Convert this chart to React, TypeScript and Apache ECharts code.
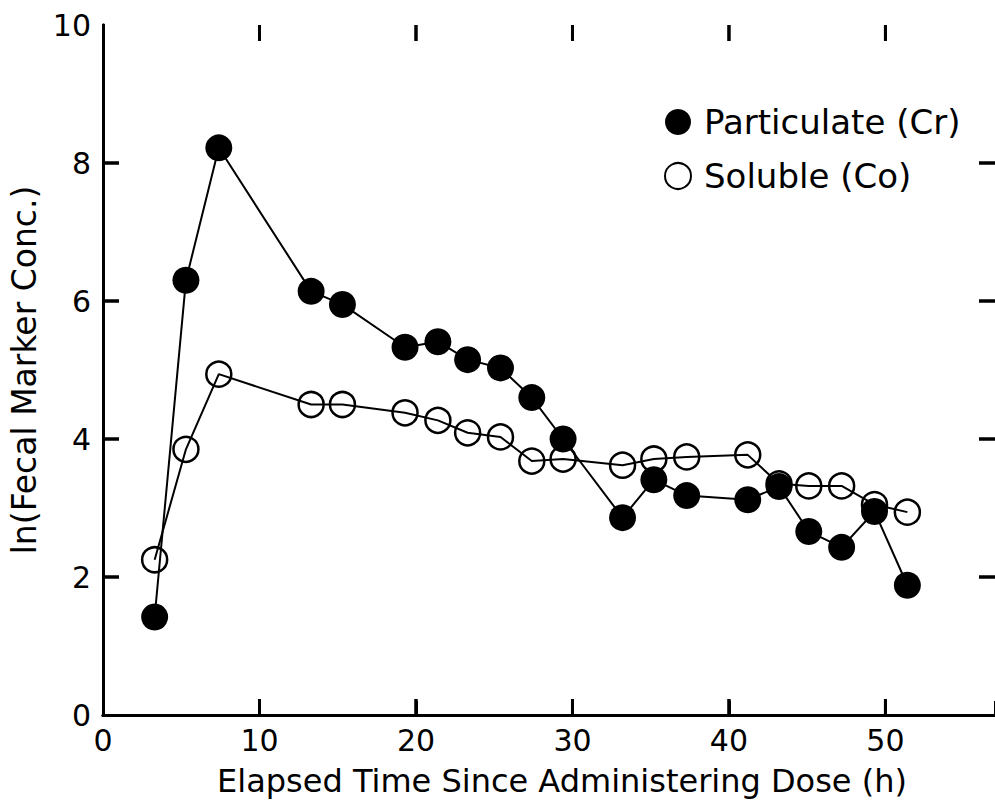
import React, { useEffect, useRef } from "react";
import * as echarts from "echarts";

const times = [3.3, 5.3, 7.4, 13.3, 15.3, 19.3, 21.4, 23.3, 25.4, 27.4, 29.4, 33.2, 35.2, 37.3, 41.2, 43.2, 45.1, 47.2, 49.3, 51.4];
const particulate = [1.42, 6.3, 8.22, 6.14, 5.95, 5.33, 5.41, 5.15, 5.03, 4.6, 4.0, 2.86, 3.41, 3.18, 3.12, 3.31, 2.66, 2.43, 2.95, 1.88];
const soluble = [2.25, 3.85, 4.94, 4.5, 4.5, 4.38, 4.27, 4.09, 4.03, 3.68, 3.71, 3.62, 3.71, 3.74, 3.77, 3.35, 3.32, 3.32, 3.05, 2.94];
const seriesNames = ["Particulate (Cr)", "Soluble (Co)"];
const xTitle = "Elapsed Time Since Administering Dose (h)";
const yTitle = "ln(Fecal Marker Conc.)";
const xTicks = [10, 20, 30, 40, 50];
const yTicks = [2, 4, 6, 8];

const FONT = "DejaVu Sans";
const X_MAX = 57;
const Y_MAX = 10;
const TICK_LEN = 16;
const GRID = { left: 102, top: 25, width: 897, height: 692 };

export default function App() {
  const ref = useRef<HTMLDivElement>(null);
  useEffect(() => {
    document.body.style.margin = "0";
    const chart = echarts.init(ref.current!, null, { renderer: "svg" });
    const axisLine = () => ({ show: true, lineStyle: { color: "#000", width: 3 } });
    const tickOnlyAxis = (extra: any) => ({
      type: "value",
      min: 0,
      axisLine: { show: false },
      axisTick: { show: true, length: TICK_LEN, lineStyle: { color: "#000", width: 3 } },
      axisLabel: { show: false },
      splitLine: { show: false },
      ...extra,
    });
    chart.setOption({
      animation: false,
      backgroundColor: "#fff",
      grid: { ...GRID, containLabel: false },
      legend: {
        orient: "vertical",
        left: 659,
        top: 100,
        itemWidth: 26,
        itemHeight: 26,
        itemGap: 20,
        icon: "circle",
        data: seriesNames,
        textStyle: { fontFamily: FONT, fontSize: 34, color: "#000", padding: [0, 0, 0, 8] },
      },
      xAxis: [
        {
          type: "value",
          min: 0,
          max: X_MAX,
          interval: 10,
          position: "bottom",
          axisLine: axisLine(),
          axisTick: { show: false },
          splitLine: { show: false },
          axisLabel: { fontFamily: FONT, fontSize: 30, color: "#000", margin: 10, showMaxLabel: false },
          name: xTitle,
          nameLocation: "middle",
          nameGap: 50,
          nameTextStyle: { fontFamily: FONT, fontSize: 32, color: "#000", padding: [0, 0, 0, 26] },
        },
        {
          type: "value",
          min: 0,
          max: X_MAX,
          interval: 10,
          position: "top",
          axisLine: axisLine(),
          axisTick: { show: false },
          splitLine: { show: false },
          axisLabel: { show: false },
        },
        // a top-style axis moved onto the bottom edge: its outward ticks point up into the plot
        tickOnlyAxis({ max: X_MAX, interval: 10, position: "top", offset: -GRID.height }),
      ],
      yAxis: [
        {
          type: "value",
          min: 0,
          max: Y_MAX,
          interval: 2,
          position: "left",
          axisLine: axisLine(),
          axisTick: { show: false },
          splitLine: { show: false },
          axisLabel: { fontFamily: FONT, fontSize: 30, color: "#000", margin: 12 },
          name: yTitle,
          nameLocation: "middle",
          nameGap: 62,
          nameRotate: 90,
          nameTextStyle: { fontFamily: FONT, fontSize: 33, color: "#000" },
        },
        {
          type: "value",
          min: 0,
          max: Y_MAX,
          interval: 2,
          position: "right",
          axisLine: axisLine(),
          axisTick: { show: false },
          splitLine: { show: false },
          axisLabel: { show: false },
        },
        // a right-style axis moved onto the left edge: its outward ticks point right into the plot
        tickOnlyAxis({ max: Y_MAX, interval: 2, position: "right", offset: -GRID.width }),
      ],
      series: [
        {
          id: "soluble",
          name: seriesNames[1],
          type: "line",
          xAxisIndex: 0,
          yAxisIndex: 0,
          data: times.map((t, i) => [t, soluble[i]]),
          symbol: "circle",
          symbolSize: 25,
          showAllSymbol: true,
          lineStyle: { color: "#000", width: 2 },
          itemStyle: { color: "rgba(255,255,255,0)", borderColor: "#000", borderWidth: 2.5 },
          z: 2,
        },
        {
          id: "particulate",
          name: seriesNames[0],
          type: "line",
          xAxisIndex: 0,
          yAxisIndex: 0,
          data: times.map((t, i) => [t, particulate[i]]),
          symbol: "circle",
          symbolSize: 27,
          showAllSymbol: true,
          lineStyle: { color: "#000", width: 2 },
          itemStyle: { color: "#000", borderColor: "#000", borderWidth: 0 },
          z: 3,
        },
      ],
    });

    const finder = { xAxisIndex: 0, yAxisIndex: 0 };
    const px = (pt: number[]) => chart.convertToPixel(finder, pt) as number[];
    const p1 = px([10, 2]);
    const p2 = px([20, 4]);
    const pxPerX = (p2[0] - p1[0]) / 10;
    const pxPerY = (p1[1] - p2[1]) / 2;
    const yZero = p1[1] + 2 * pxPerY;
    const xZero = p1[0] - 10 * pxPerX;
    const dx = TICK_LEN / pxPerX;
    const dy = TICK_LEN / pxPerY;

    const tickStyle = { stroke: "#000", lineWidth: 3 };
    const lines: any[] = [];
    xTicks.forEach((v) => {
      const t = px([v, Y_MAX]);
      lines.push({ type: "line", z: 100, shape: { x1: t[0], y1: yZero, x2: t[0], y2: yZero - TICK_LEN }, style: tickStyle });
      lines.push({ type: "line", z: 100, shape: { x1: t[0], y1: t[1], x2: t[0], y2: t[1] + TICK_LEN }, style: tickStyle });
    });
    yTicks.forEach((v) => {
      const r = px([X_MAX, v]);
      lines.push({ type: "line", z: 100, shape: { x1: xZero, y1: r[1], x2: xZero + TICK_LEN, y2: r[1] }, style: tickStyle });
      lines.push({ type: "line", z: 100, shape: { x1: r[0], y1: r[1], x2: r[0] - TICK_LEN, y2: r[1] }, style: tickStyle });
    });

    // inward ticks also drawn as a broken line series through the axes' scales
    const tickSeriesData: any[] = [];
    xTicks.forEach((v) => {
      tickSeriesData.push([v, 0], [v, dy], ["-", "-"]);
      tickSeriesData.push([v, Y_MAX], [v, Y_MAX - dy], ["-", "-"]);
    });
    yTicks.forEach((v) => {
      tickSeriesData.push([0, v], [dx, v], ["-", "-"]);
      tickSeriesData.push([X_MAX, v], [X_MAX - dx, v], ["-", "-"]);
    });

    chart.setOption({
      graphic: lines,
      series: [
        {
          id: "ticks",
          type: "line",
          xAxisIndex: 0,
          yAxisIndex: 0,
          data: tickSeriesData,
          symbol: "none",
          silent: true,
          clip: false,
          connectNulls: false,
          lineStyle: { color: "#000", width: 3 },
          z: 10,
        },
      ],
    });

    return () => chart.dispose();
  }, []);
  return <div ref={ref} style={{ width: 995, height: 802 }} />;
}
